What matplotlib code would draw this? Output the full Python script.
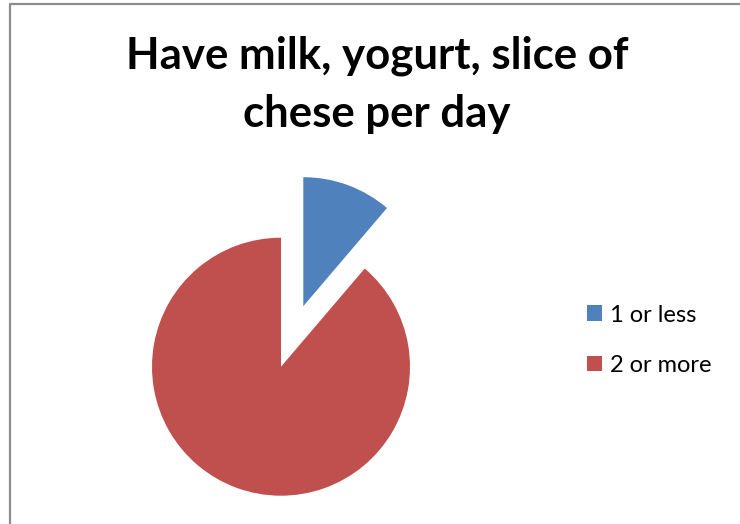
import matplotlib.pyplot as plt
from matplotlib.lines import Line2D

title_lines = ['Have milk, yogurt, slice of', 'chese per day']
labels = ['1 or less', '2 or more']
values = [10, 79]
colors = ['#4F81BD', '#C0504D']

W, H = 740, 524
fig = plt.figure(figsize=(W / 100, H / 100), dpi=100)

# pie geometry in pixels (radius 1 in data = R px)
R = 129.0
cx, cy = 281.0, 366.7
ax = fig.add_axes([0, 0, 1, 1])
wedges, _ = ax.pie(values, colors=colors, startangle=90, counterclock=False,
                   explode=[0.5, 0], radius=1.0)
ax.set_xlim(-cx / R, (W - cx) / R)
ax.set_ylim(-(H - cy) / R, cy / R)
ax.set_aspect('equal')
ax.axis('off')

# title
fig.text(377 / W, 1 - 68.3 / H, title_lines[0], ha='center', va='baseline',
         fontsize=31.5, fontweight='bold', family='Lato')
fig.text(377 / W, 1 - 127.3 / H, title_lines[1], ha='center', va='baseline',
         fontsize=31.5, fontweight='bold', family='Lato')

# legend
fig.legend(wedges, labels, loc='upper left', bbox_to_anchor=(587 / W, 1 - 304.5 / H),
           frameon=False, prop={'family': 'Lato', 'size': 17},
           handlelength=0.63, handleheight=0.63, handletextpad=0.34,
           labelspacing=1.24, borderaxespad=0, borderpad=0)

# chart border (top and left visible)
fig.add_artist(Line2D([9.5 / W, 9.5 / W, 1], [0, 1 - 3.5 / H, 1 - 3.5 / H],
                      transform=fig.transFigure, color='#8c8c8c', lw=1.6))

fig.savefig('out.png', dpi=100)
